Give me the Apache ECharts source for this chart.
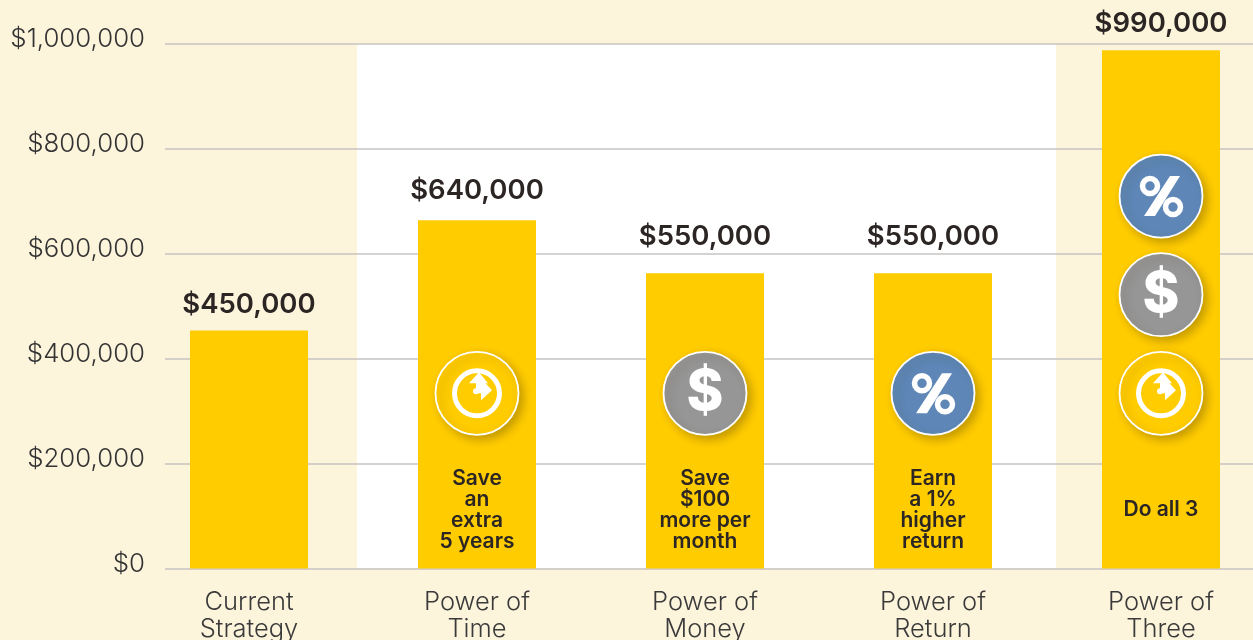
<!DOCTYPE html>
<html>
<head>
<meta charset="utf-8">
<style>html,body{margin:0;padding:0;background:#FDF4DC}#c{width:1253px;height:640px}</style>
<script src="https://cdn.jsdelivr.net/npm/echarts@6/dist/echarts.min.js"></script>
</head>
<body>
<div id="c"></div>
<script>
const categories = ['Current\nStrategy','Power of\nTime','Power of\nMoney','Power of\nReturn','Power of\nThree'];
const barValues = [454000, 664000, 563000, 563000, 988000];
const valueLabels = ['$450,000','$640,000','$550,000','$550,000','$990,000'];
const tickLabels = {0:'$0',200000:'$200,000',400000:'$400,000',600000:'$600,000',800000:'$800,000',1000000:'$1,000,000'};
const captions = [null,'Save\nan\nextra\n5 years','Save\n$100\nmore per\nmonth','Earn\na 1%\nhigher\nreturn','Do all 3'];
const captionLevel = 112000;
// [category index, height on the value axis, icon kind]
const icons = [[1,334000,'time'],[2,334000,'money'],[3,334000,'return'],[4,334000,'time'],[4,522000,'money'],[4,710000,'return']];

const FONT = 'Inter, "Open Sans", sans-serif';
const DARK = '#2b2523';
const GOLD = '#FFCC00';
const iconFill = {time:GOLD, money:'#969696', return:'#5E87B7'};
const labelGap = [12,15,22,22,13];

function iconItem(params, api){
  const p = api.coord([api.value(0), api.value(1)]);
  const kind = icons[params.dataIndex][2];
  const children = [{
    type:'circle', shape:{cx:0,cy:0,r:41.5},
    style:{fill:iconFill[kind],stroke:'#fff',lineWidth:1.8,shadowBlur:9,shadowOffsetX:4,shadowOffsetY:4,shadowColor:'rgba(70,50,0,0.3)'}
  }];
  if(kind==='time'){
    children.push(
      {type:'circle',shape:{cx:0,cy:0,r:22.5},style:{fill:'none',stroke:'#fff',lineWidth:5}},
      {type:'polygon',shape:{points:[[2,-21],[11,-10],[-8,-10]]},style:{fill:'#fff'}},
      {type:'polygon',shape:{points:[[4,-15],[15,-3],[4,7]]},style:{fill:'#fff'}},
      {type:'polygon',shape:{points:[[-1,-12],[5,-12],[5,0],[-1,0]]},style:{fill:'#fff'}},
      {type:'circle',shape:{cx:-1,cy:-2,r:3},style:{fill:'#fff'}}
    );
  } else if(kind==='money'){
    children.push({type:'text',style:{x:0,y:0,text:'$',align:'center',verticalAlign:'middle',fill:'#fff',font:'800 56px '+FONT}});
  } else {
    children.push(
      {type:'circle',shape:{cx:-11,cy:-10,r:7.5},style:{fill:'none',stroke:'#fff',lineWidth:5.5}},
      {type:'circle',shape:{cx:12,cy:11,r:7.5},style:{fill:'none',stroke:'#fff',lineWidth:5.5}},
      {type:'polygon',shape:{points:[[9,-20],[19,-20],[-6,20],[-17,20]]},style:{fill:'#fff'}}
    );
  }
  return {type:'group',x:p[0],y:p[1],children};
}
function captionItem(params, api){
  const p = api.coord([api.value(0), api.value(1)]);
  return {type:'text',x:p[0],y:p[1],style:{text:captions[params.dataIndex]||'',align:'center',verticalAlign:'middle',
    fill:DARK,font:'600 21px '+FONT,lineHeight:21}};
}

const chart = echarts.init(document.getElementById('c'),null,{renderer:'canvas'});
chart.setOption({
  animation:false,
  backgroundColor:'#FDF4DC',
  graphic:[{type:'rect',z:-1,silent:true,shape:{x:357,y:44,width:699,height:524},style:{fill:'#fff'}}],
  grid:[
    {left:165,right:0,top:44,height:524.5,outerBoundsMode:'none'},
    {left:135,width:1140,top:44,height:524.5,outerBoundsMode:'none'}
  ],
  xAxis:[
    {gridIndex:0,type:'value',show:false,min:0,max:1},
    {gridIndex:1,type:'category',data:categories,
      axisLine:{show:false},axisTick:{show:false},
      axisLabel:{interval:0,margin:20,color:'#3a3a3a',fontFamily:FONT,fontWeight:300,fontSize:25.5,lineHeight:27}}
  ],
  yAxis:[
    {gridIndex:0,type:'value',min:0,max:1000000,interval:200000,
      axisLine:{show:false},axisTick:{show:false},
      axisLabel:{margin:20,color:'#333',fontFamily:FONT,fontWeight:300,fontSize:25.8,verticalAlign:'bottom',lineHeight:9,formatter:v=>tickLabels[v]},
      splitLine:{lineStyle:{color:'#c6c5c2',width:1.5}}},
    {gridIndex:1,type:'value',show:false,min:0,max:1000000,interval:200000,splitLine:{show:false}}
  ],
  series:[
    {type:'bar',xAxisIndex:1,yAxisIndex:1,barWidth:118,itemStyle:{color:GOLD},
      data:barValues.map((v,i)=>({value:v,label:{distance:labelGap[i]}})),
      label:{show:true,position:'top',color:DARK,fontFamily:FONT,fontWeight:600,fontSize:27.5,
        formatter:p=>valueLabels[p.dataIndex]}},
    {type:'custom',xAxisIndex:1,yAxisIndex:1,clip:false,z:5,renderItem:iconItem,
      data:icons.map(d=>[d[0],d[1]])},
    {type:'custom',xAxisIndex:1,yAxisIndex:1,clip:false,z:5,renderItem:captionItem,
      data:captions.map((c,i)=>[i,captionLevel])}
  ]
});
</script>
</body>
</html>
